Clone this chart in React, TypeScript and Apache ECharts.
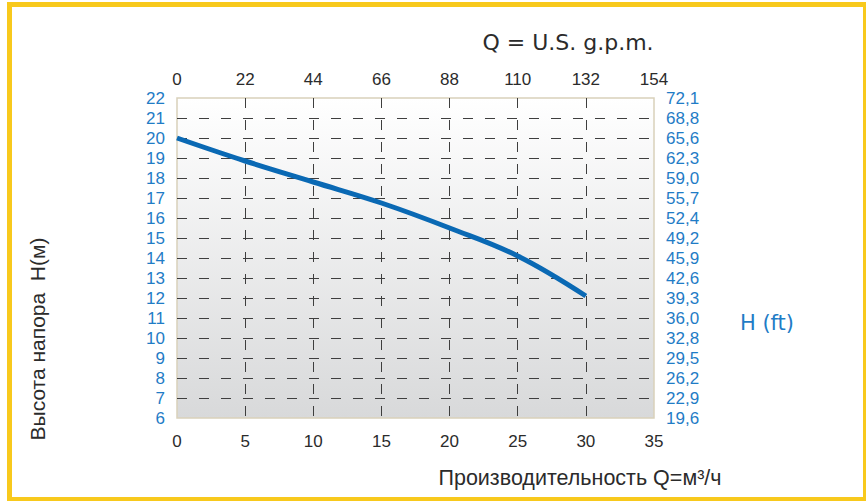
import React, { useEffect, useRef } from "react";
import * as echarts from "echarts";

const flowM3h: number[] = [0, 5, 10, 15, 20, 25, 30];
const headM: number[] = [20, 18.85, 17.8, 16.75, 15.5, 14.1, 12.1];
const gpmTicks: number[] = [0, 22, 44, 66, 88, 110, 132, 154];
const ftLabels: string[] = [
  "19,6", "22,9", "26,2", "29,5", "32,8", "36,0", "39,3", "42,6", "45,9",
  "49,2", "52,4", "55,7", "59,0", "62,3", "65,6", "68,8", "72,1",
];

const BLUE_TXT = "#1f7cc6";
const DARK = "#2b2b2b";
const FONT = "'Liberation Sans', Arial, sans-serif";
const WIDE = "'DejaVu Sans', sans-serif";

export default function App() {
  const ref = useRef<HTMLDivElement>(null);
  useEffect(() => {
    if (!ref.current) return;
    const chart = echarts.init(ref.current, undefined, { renderer: "svg" });
    const dash = { type: [10, 12] as any, color: "#3e3e3e", width: 1 };
    chart.setOption({
      animation: false,
      backgroundColor: "#ffffff",
      textStyle: { fontFamily: FONT },
      grid: {
        left: 177,
        right: 212,
        top: 98,
        bottom: 83,
        show: true,
        borderColor: "#d9d1bb",
        borderWidth: 1.5,
        backgroundColor: new echarts.graphic.LinearGradient(0, 0, 0, 1, [
          { offset: 0, color: "#ffffff" },
          { offset: 1, color: "#d8d9da" },
        ]),
      },
      xAxis: [
        {
          type: "value",
          position: "bottom",
          min: 0,
          max: 35,
          interval: 5,
          axisLine: { show: false },
          axisTick: { show: false },
          axisLabel: { color: DARK, fontSize: 17, margin: 15, fontFamily: FONT },
          splitLine: { show: true, showMinLine: false, showMaxLine: false, lineStyle: dash },
        },
        {
          type: "value",
          position: "top",
          min: gpmTicks[0],
          max: gpmTicks[gpmTicks.length - 1],
          interval: gpmTicks[1] - gpmTicks[0],
          axisLine: { show: false },
          axisTick: { show: false },
          axisLabel: { color: DARK, fontSize: 17, margin: 10, fontFamily: FONT },
          splitLine: { show: false },
        },
      ],
      yAxis: [
        {
          type: "value",
          position: "left",
          min: 6,
          max: 22,
          interval: 1,
          axisLine: { show: false },
          axisTick: { show: false },
          axisLabel: { color: BLUE_TXT, fontSize: 17, margin: 12, fontFamily: FONT },
          splitLine: { show: true, showMinLine: false, showMaxLine: false, lineStyle: dash },
        },
        {
          type: "value",
          position: "right",
          min: 6,
          max: 22,
          interval: 1,
          axisLine: { show: false },
          axisTick: { show: false },
          axisLabel: {
            color: BLUE_TXT,
            fontSize: 17,
            margin: 12,
            fontFamily: FONT,
            formatter: (v: number) => ftLabels[Math.round(v - 6)] ?? "",
          },
          splitLine: { show: false },
        },
      ],
      series: [
        {
          type: "line",
          xAxisIndex: 0,
          yAxisIndex: 0,
          smooth: 0.4,
          symbol: "none",
          data: flowM3h.map((x, i) => [x, headM[i]]),
          lineStyle: { color: "#0a69b4", width: 5 },
        },
      ],
      graphic: [
        {
          type: "rect",
          shape: { x: 9.5, y: 4.5, width: 856, height: 495 },
          style: { fill: "none", stroke: "#f8c91c", lineWidth: 5 },
          silent: true,
        },
        {
          type: "text",
          x: 568,
          y: 42,
          style: {
            text: "Q = U.S. g.p.m.",
            fill: DARK,
            font: `22px ${WIDE}`,
            textAlign: "center",
            textVerticalAlign: "middle",
          },
        },
        {
          type: "text",
          x: 767,
          y: 323,
          style: {
            text: "H (ft)",
            fill: BLUE_TXT,
            font: `21px ${WIDE}`,
            textAlign: "center",
            textVerticalAlign: "middle",
          },
        },
        {
          type: "text",
          x: 580,
          y: 478,
          style: {
            text: "Производительность Q=м³/ч",
            fill: DARK,
            font: `21.5px ${FONT}`,
            textAlign: "center",
            textVerticalAlign: "middle",
          },
        },
        {
          type: "text",
          x: 37,
          y: 339,
          rotation: Math.PI / 2,
          style: {
            text: "Высота напора  H(м)",
            fill: DARK,
            font: `21px ${FONT}`,
            textAlign: "center",
            textVerticalAlign: "middle",
          },
        },
      ],
    });
    return () => chart.dispose();
  }, []);
  return (
    <div
      ref={ref}
      style={{ position: "fixed", left: 0, top: 0, width: 866, height: 501 }}
    />
  );
}
